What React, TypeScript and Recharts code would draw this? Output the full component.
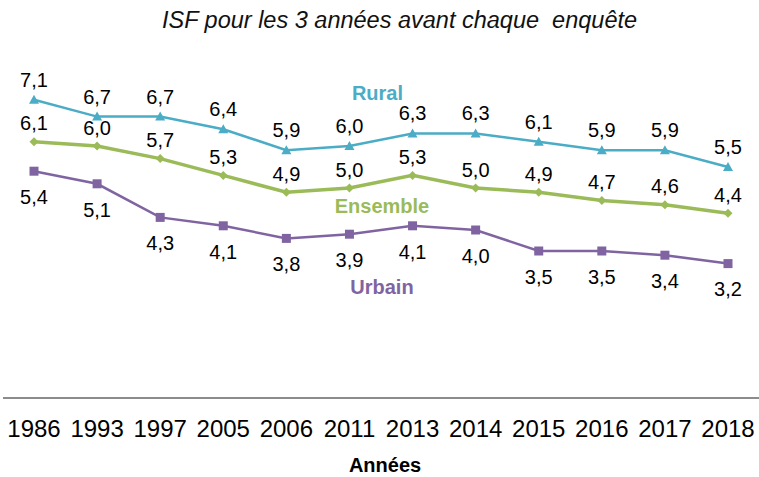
import {FC} from "react";
import {LineChart, Line, XAxis, YAxis, LabelList, ReferenceDot} from "recharts";

const years = ["1986", "1993", "1997", "2005", "2006", "2011", "2013", "2014", "2015", "2016", "2017", "2018"];
const rural = [7.1, 6.7, 6.7, 6.4, 5.9, 6.0, 6.3, 6.3, 6.1, 5.9, 5.9, 5.5];
const ensemble = [6.1, 6.0, 5.7, 5.3, 4.9, 5.0, 5.3, 5.0, 4.9, 4.7, 4.6, 4.4];
const urbain = [5.4, 5.1, 4.3, 4.1, 3.8, 3.9, 4.1, 4.0, 3.5, 3.5, 3.4, 3.2];

const BLUE = "#4BACC6";
const GREEN = "#9BBB59";
const PURPLE = "#8064A2";
const FONT = "'Liberation Sans', Arial, sans-serif";

const data = years.map((y, i) => ({year: y, rural: rural[i], ensemble: ensemble[i], urbain: urbain[i]}));

const fmt = (v: any) => Number(v).toFixed(1).replace(".", ",");

const Triangle = (props: any) => {
  const {cx, cy} = props;
  if (cx == null || cy == null) return null;
  return <polygon points={`${cx},${cy - 5} ${cx - 5},${cy + 4} ${cx + 5},${cy + 4}`} fill={BLUE}/>;
};

const Diamond = (props: any) => {
  const {cx, cy} = props;
  if (cx == null || cy == null) return null;
  return <polygon points={`${cx},${cy - 4.5} ${cx + 4.5},${cy} ${cx},${cy + 4.5} ${cx - 4.5},${cy}`} fill={GREEN}/>;
};

const Square = (props: any) => {
  const {cx, cy} = props;
  if (cx == null || cy == null) return null;
  return <rect x={cx - 4.5} y={cy - 4.5} width={9} height={9} fill={PURPLE}/>;
};

const labelStyle = {fontSize: 20, fill: "#000", fontFamily: FONT};
const seriesLabel = {position: "center" as const, fontSize: 20, fontWeight: "bold", fontFamily: FONT};

const App: FC = () => {
  return (
    <div style={{position: "absolute", left: 0, top: 0, width: 759, height: 477, fontFamily: FONT}}>
      <div style={{position: "absolute", top: 6, left: 20, width: 759, textAlign: "center", fontSize: 23.5, lineHeight: "28px", fontStyle: "italic", color: "#111"}}>
        ISF pour les 3 années avant chaque{"\u00a0"} enquête
      </div>
      <LineChart width={759} height={477} data={data} margin={{top: 62, right: 0, left: 3, bottom: 0}}>
        <XAxis
          dataKey="year"
          height={79}
          interval={0}
          padding={{left: 31, right: 31}}
          stroke="#666"
          strokeWidth={1.5}
          tickLine={false}
          tickSize={0}
          tickMargin={22}
          tick={{fontSize: 24, fill: "#000", fontFamily: FONT}}
          label={{value: "Années", position: "insideBottom", offset: 5, dx: 4, fontSize: 20, fontWeight: "bold", fill: "#000", fontFamily: FONT}}
        />
        <YAxis hide domain={[0, 8]}/>
        <Line dataKey="rural" stroke={BLUE} strokeWidth={2.5} dot={<Triangle/>} activeDot={false} isAnimationActive={false}>
          <LabelList dataKey="rural" position="top" offset={13} formatter={fmt} style={labelStyle}/>
        </Line>
        <Line dataKey="ensemble" stroke={GREEN} strokeWidth={3.5} dot={<Diamond/>} activeDot={false} isAnimationActive={false}>
          <LabelList dataKey="ensemble" position="top" offset={11.5} formatter={fmt} style={labelStyle}/>
        </Line>
        <Line dataKey="urbain" stroke={PURPLE} strokeWidth={2.5} dot={<Square/>} activeDot={false} isAnimationActive={false}>
          <LabelList dataKey="urbain" position="bottom" offset={18.5} formatter={fmt} style={labelStyle}/>
        </Line>
        <ReferenceDot x="2011" y={7.26} r={0} stroke="none" fill="none" ifOverflow="visible"
                      label={{...seriesLabel, value: "Rural", dx: 28, fill: BLUE}}/>
        <ReferenceDot x="2011" y={4.57} r={0} stroke="none" fill="none" ifOverflow="visible"
                      label={{...seriesLabel, value: "Ensemble", dx: 32.5, fill: GREEN}}/>
        <ReferenceDot x="2011" y={2.64} r={0} stroke="none" fill="none" ifOverflow="visible"
                      label={{...seriesLabel, value: "Urbain", dx: 32.5, fill: PURPLE}}/>
      </LineChart>
    </div>
  );
};

export default App;
